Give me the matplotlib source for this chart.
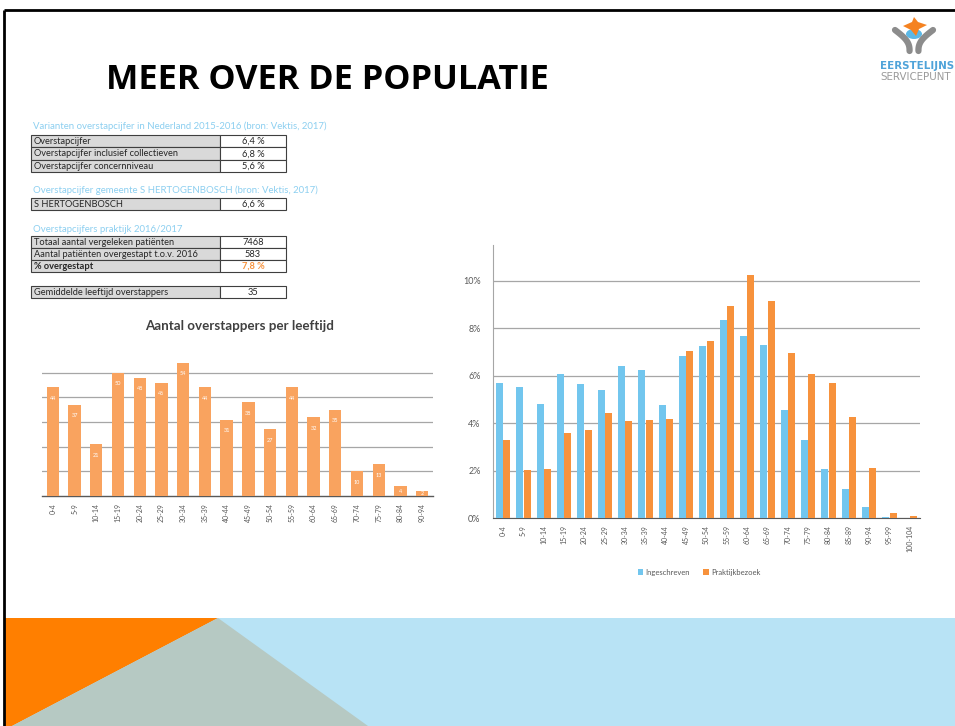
import matplotlib
matplotlib.use('Agg')
import matplotlib.pyplot as plt
from matplotlib.patches import Rectangle, Polygon, Ellipse
import numpy as np

W, H = 955, 726

# ---------------- data ----------------
slide_title = "MEER OVER DE POPULATIE"

left_title = "Aantal overstappers per leeftijd"
left_categories = ['0-4', '5-9', '10-14', '15-19', '20-24', '25-29', '30-34', '35-39',
                   '40-44', '45-49', '50-54', '55-59', '60-64', '65-69', '70-74',
                   '75-79', '80-84', '90-94']
left_values = [44, 37, 21, 50, 48, 46, 54, 44, 31, 38, 27, 44, 32, 35, 10, 13, 4, 2]

right_categories = ['0-4', '5-9', '10-14', '15-19', '20-24', '25-29', '30-34', '35-39',
                    '40-44', '45-49', '50-54', '55-59', '60-64', '65-69', '70-74',
                    '75-79', '80-84', '85-89', '90-94', '95-99', '100-104']
ingeschreven = [5.71, 5.52, 4.80, 6.06, 5.66, 5.38, 6.39, 6.24, 4.77, 6.83, 7.27,
                8.35, 7.65, 7.31, 4.57, 3.31, 2.07, 1.24, 0.49, 0.07, 0.01]
praktijkbezoek = [3.29, 2.03, 2.07, 3.57, 3.73, 4.45, 4.10, 4.14, 4.18, 7.06, 7.45,
                  8.92, 10.25, 9.16, 6.97, 6.08, 5.69, 4.27, 2.10, 0.21, 0.11]
series_names = ['Ingeschreven', 'Praktijkbezoek']

table1_header = "Varianten overstapcijfer in Nederland 2015-2016 (bron: Vektis, 2017)"
table1_labels = ["Overstapcijfer", "Overstapcijfer inclusief collectieven",
                 "Overstapcijfer concernniveau"]
table1_values = ["6,4 %", "6,8 %", "5,6 %"]
table2_header = "Overstapcijfer gemeente S HERTOGENBOSCH (bron: Vektis, 2017)"
table2_labels = ["S HERTOGENBOSCH"]
table2_values = ["6,6 %"]
table3_header = "Overstapcijfers praktijk 2016/2017"
table3_labels = ["Totaal aantal vergeleken patiënten",
                 "Aantal patiënten overgestapt t.o.v. 2016", "% overgestapt"]
table3_values = ["7468", "583", "7,8 %"]
table4_labels = ["Gemiddelde leeftijd overstappers"]
table4_values = ["35"]

# ---------------- colours ----------------
BLUE = '#72C6EE'
ORANGE = '#F7923C'
ORANGE_L = '#F9A35F'
HEAD_BLUE = '#8CCFF0'
GRID = '#A6A6A6'
TXT = '#595959'
FONT = 'Lato'

fig = plt.figure(figsize=(W / 100, H / 100), dpi=100)
bg = fig.add_axes([0, 0, 1, 1])
bg.set_xlim(0, W)
bg.set_ylim(H, 0)
bg.axis('off')

# slide frame
bg.plot([4, W], [10, 10], color='black', lw=2, solid_capstyle='butt')
bg.plot([4, 4], [10, H], color='black', lw=2, solid_capstyle='butt')

# bottom band
bg.add_patch(Rectangle((5, 618), W - 5, H - 618, facecolor='#B8E3F5', edgecolor='none'))
bg.add_patch(Polygon([(5, 618), (218, 618), (12, H), (5, H)], closed=True,
                     facecolor='#FF7F00', edgecolor='none'))
bg.add_patch(Polygon([(218, 618), (12, H), (368, H)], closed=True,
                     facecolor='#B6C9C3', edgecolor='none'))

# title
bg.text(106, 80, slide_title, fontsize=24.7, fontweight='bold', family='Open Sans',
        color='black', va='center', ha='left')

# logo
t = np.linspace(0, 1, 30)
lx = 895 + 5 * np.sin(np.pi * t * 0.9) + 13 * t
ly = 30 + 21 * t
bg.plot(lx, ly, color='#8C8C8C', lw=4.5, solid_capstyle='round')
bg.plot(2 * 914 - lx, ly, color='#8C8C8C', lw=4.5, solid_capstyle='round')
bg.add_patch(Ellipse((914, 34), 16, 10, facecolor='#5BB8E6', edgecolor='none'))
bg.add_patch(Polygon([(903, 26), (912, 22), (914, 17), (918, 22), (927, 25),
                      (919, 29), (916, 36), (911, 30)], closed=True,
                     facecolor='#F58220', edgecolor='none'))
bg.text(880, 66, "EERSTELIJNS", fontsize=7.4, fontweight='bold', color='#4FA3D9',
        family='DejaVu Sans', va='center', ha='left')
bg.text(880, 77, "SERVICEPUNT", fontsize=7.4, color='#9A9A9A',
        family='DejaVu Sans', va='center', ha='left')

# tables
X0, XD, X1 = 31, 220, 286
VC = 253


def draw_table(top, labels, values, row_h, bold_last=False):
    n = len(labels)
    for i, (lab, val) in enumerate(zip(labels, values)):
        y = top + i * row_h
        bg.add_patch(Rectangle((X0, y), XD - X0, row_h, facecolor='#D9D9D9',
                               edgecolor='#3F3F3F', lw=0.8))
        bg.add_patch(Rectangle((XD, y), X1 - XD, row_h, facecolor='white',
                               edgecolor='#3F3F3F', lw=0.8))
        last = bold_last and i == n - 1
        bg.text(X0 + 3, y + row_h / 2 + 0.3, lab, fontsize=6.7, family=FONT,
                fontweight='bold' if last else 'normal', color='#262626',
                va='center', ha='left')
        bg.text(VC, y + row_h / 2 + 0.3, val, fontsize=6.7, family=FONT,
                fontweight='bold' if last else 'normal',
                color=ORANGE if last else '#262626', va='center', ha='center')


def header(y, s):
    bg.text(X0 + 2, y, s, fontsize=6.9, family=FONT, color=HEAD_BLUE,
            va='center', ha='left')


header(126, table1_header)
draw_table(135, table1_labels, table1_values, 12.4)
header(190, table2_header)
draw_table(197.5, table2_labels, table2_values, 12.6)
header(229, table3_header)
draw_table(236, table3_labels, table3_values, 12.0, bold_last=True)
draw_table(285.5, table4_labels, table4_values, 12.6)

# ---------------- left chart ----------------
bg.text(240, 326, left_title, fontsize=9.6, fontweight='bold', family=FONT,
        color='#404040', ha='center', va='center')

axL = fig.add_axes([42 / W, 1 - 496 / H, 391 / W, 148 / H])
xl = np.arange(len(left_categories))
bars = axL.bar(xl, left_values, width=0.57, color=ORANGE_L, zorder=3)
for xi, v in zip(xl, left_values):
    yy = max(v - 4.5, v / 2)
    axL.text(xi, yy, str(v), fontsize=4, color='white', ha='center', va='center',
             family=FONT, zorder=4)
axL.set_xlim(-0.5, len(xl) - 0.5)
axL.set_ylim(0, 60)
axL.set_yticks([10, 20, 30, 40, 50])
axL.yaxis.grid(True, color=GRID, lw=0.9, zorder=0)
axL.set_axisbelow(True)
axL.tick_params(axis='y', left=False, labelleft=False)
axL.set_xticks(xl)
axL.set_xticklabels(left_categories, rotation=90, fontsize=5, color=TXT, family=FONT)
axL.tick_params(axis='x', length=0, pad=5)
for s in ['top', 'right', 'left']:
    axL.spines[s].set_visible(False)
axL.spines['bottom'].set_color('#595959')
axL.spines['bottom'].set_linewidth(1)
axL.patch.set_alpha(0)

# ---------------- right chart ----------------
axR = fig.add_axes([493 / W, 1 - 518.3 / H, 427 / W, (518.3 - 245) / H])
xr = np.arange(len(right_categories))
bw = 0.33
axR.bar(xr - 0.18, ingeschreven, bw, color=BLUE, zorder=3, label=series_names[0])
axR.bar(xr + 0.18, praktijkbezoek, bw, color=ORANGE, zorder=3, label=series_names[1])
axR.set_xlim(-0.5, len(xr) - 0.5)
axR.set_ylim(0, 11.5)
axR.set_yticks([0, 2, 4, 6, 8, 10])
axR.set_yticklabels([f"{v}%" for v in [0, 2, 4, 6, 8, 10]], fontsize=6.5, color=TXT,
                    family=FONT)
axR.yaxis.grid(True, color=GRID, lw=0.9, zorder=0)
axR.set_axisbelow(True)
axR.tick_params(axis='y', length=0, pad=9)
axR.set_xticks(xr)
axR.set_xticklabels(right_categories, rotation=90, fontsize=5, color=TXT, family=FONT)
axR.tick_params(axis='x', length=0, pad=5)
for s in ['top', 'right']:
    axR.spines[s].set_visible(False)
axR.spines['left'].set_color('#A6A6A6')
axR.spines['bottom'].set_color('#595959')
axR.patch.set_alpha(0)

fig.legend(loc='center', bbox_to_anchor=(699 / W, 1 - 572 / H), ncol=2,
           frameon=False, prop={'family': FONT, 'size': 5.5}, labelcolor=TXT,
           handlelength=0.7, handleheight=0.7, handletextpad=0.3, columnspacing=1.8)

fig.savefig('out.png', dpi=100)
